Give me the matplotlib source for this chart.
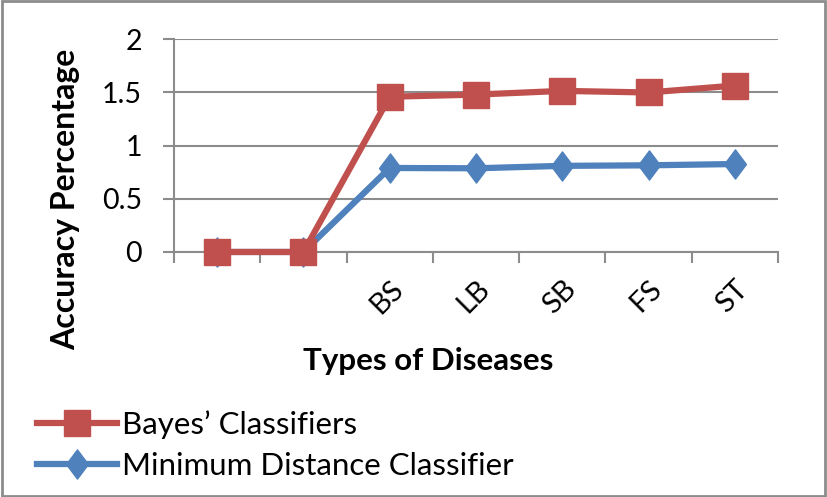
import matplotlib
matplotlib.use("Agg")
import matplotlib.pyplot as plt
from matplotlib.patches import Rectangle
from matplotlib.lines import Line2D
from matplotlib.path import Path

categories = ["", "", "BS", "LB", "SB", "FS", "ST"]
bayes = [0, 0, 1.46, 1.48, 1.515, 1.50, 1.565]
min_dist = [0, 0, 0.79, 0.787, 0.81, 0.815, 0.827]
yticks = [0, 0.5, 1, 1.5, 2]
ytick_labels = ["0", "0.5", "1", "1.5", "2"]

RED = "#C0504D"
BLUE = "#4F81BD"
GRID = "#8C8C8C"
FONT = ["Lato", "DejaVu Sans"]

plt.rcParams['font.family'] = FONT

diamond = Path([(0, 1), (0.75, 0), (0, -1), (-0.75, 0), (0, 1)],
               [Path.MOVETO, Path.LINETO, Path.LINETO, Path.LINETO, Path.CLOSEPOLY])

fig = plt.figure(figsize=(8.27, 4.97), dpi=100)
ax = fig.add_axes([0.2104, 0.4930, 0.9407 - 0.2104, 0.9209 - 0.4930])

x = list(range(len(categories)))
ax.plot(x, min_dist, color=BLUE, lw=4.5, marker=diamond, markersize=21,
        markerfacecolor=BLUE, markeredgecolor=BLUE, zorder=3, clip_on=False)
ax.plot(x, bayes, color=RED, lw=4.5, marker="s", markersize=18.5,
        markerfacecolor=RED, markeredgecolor=RED, zorder=4, clip_on=False)

ax.set_xlim(-0.5, len(categories) - 0.5)
ax.set_ylim(0, 2)
ax.set_yticks(yticks)
ax.set_yticklabels(ytick_labels, fontsize=20.5)
ax.yaxis.grid(True, color=GRID, lw=1.5)
ax.set_axisbelow(True)
ax.tick_params(axis="y", length=8, width=1.5, color=GRID, pad=15)

ax.set_xticks(x)
ax.set_xticklabels(categories, fontsize=21, rotation=45, ha="right",
                   va="top", rotation_mode="anchor")
ax.tick_params(axis="x", which="major", length=0, pad=17)
ax.set_xticks([i - 0.5 for i in range(len(categories) + 1)], minor=True)
ax.tick_params(axis="x", which="minor", length=8, width=1.5, color=GRID)

for s in ["top", "right"]:
    ax.spines[s].set_visible(False)
for s in ["left", "bottom"]:
    ax.spines[s].set_color(GRID)
    ax.spines[s].set_linewidth(1.5)

fig.text(0.080, 0.598, "Accuracy Percentage", rotation=90, ha="center",
         va="center", fontsize=23, fontweight="bold")
fig.text(0.518, 0.274, "Types of Diseases", ha="center", va="center",
         fontsize=22.5, fontweight="bold")

handles = [
    Line2D([0], [0], color=RED, lw=4.5, marker="s", markersize=18.5),
    Line2D([0], [0], color=BLUE, lw=4.5, marker=diamond, markersize=21),
]
leg = fig.legend(handles, ["Bayes\u2019 Classifiers", "Minimum Distance Classifier"],
                 loc="center left", bbox_to_anchor=(0.045, 0.104), frameon=False,
                 fontsize=22.5, handlelength=2.55, handletextpad=0.15,
                 labelspacing=0.42, borderaxespad=0, borderpad=0)

fig.patches.append(Rectangle((0.002, 0.003), 0.996, 0.994, transform=fig.transFigure,
                             fill=False, edgecolor="#8C8C8C", lw=2))

fig.savefig("out.png", dpi=100)
